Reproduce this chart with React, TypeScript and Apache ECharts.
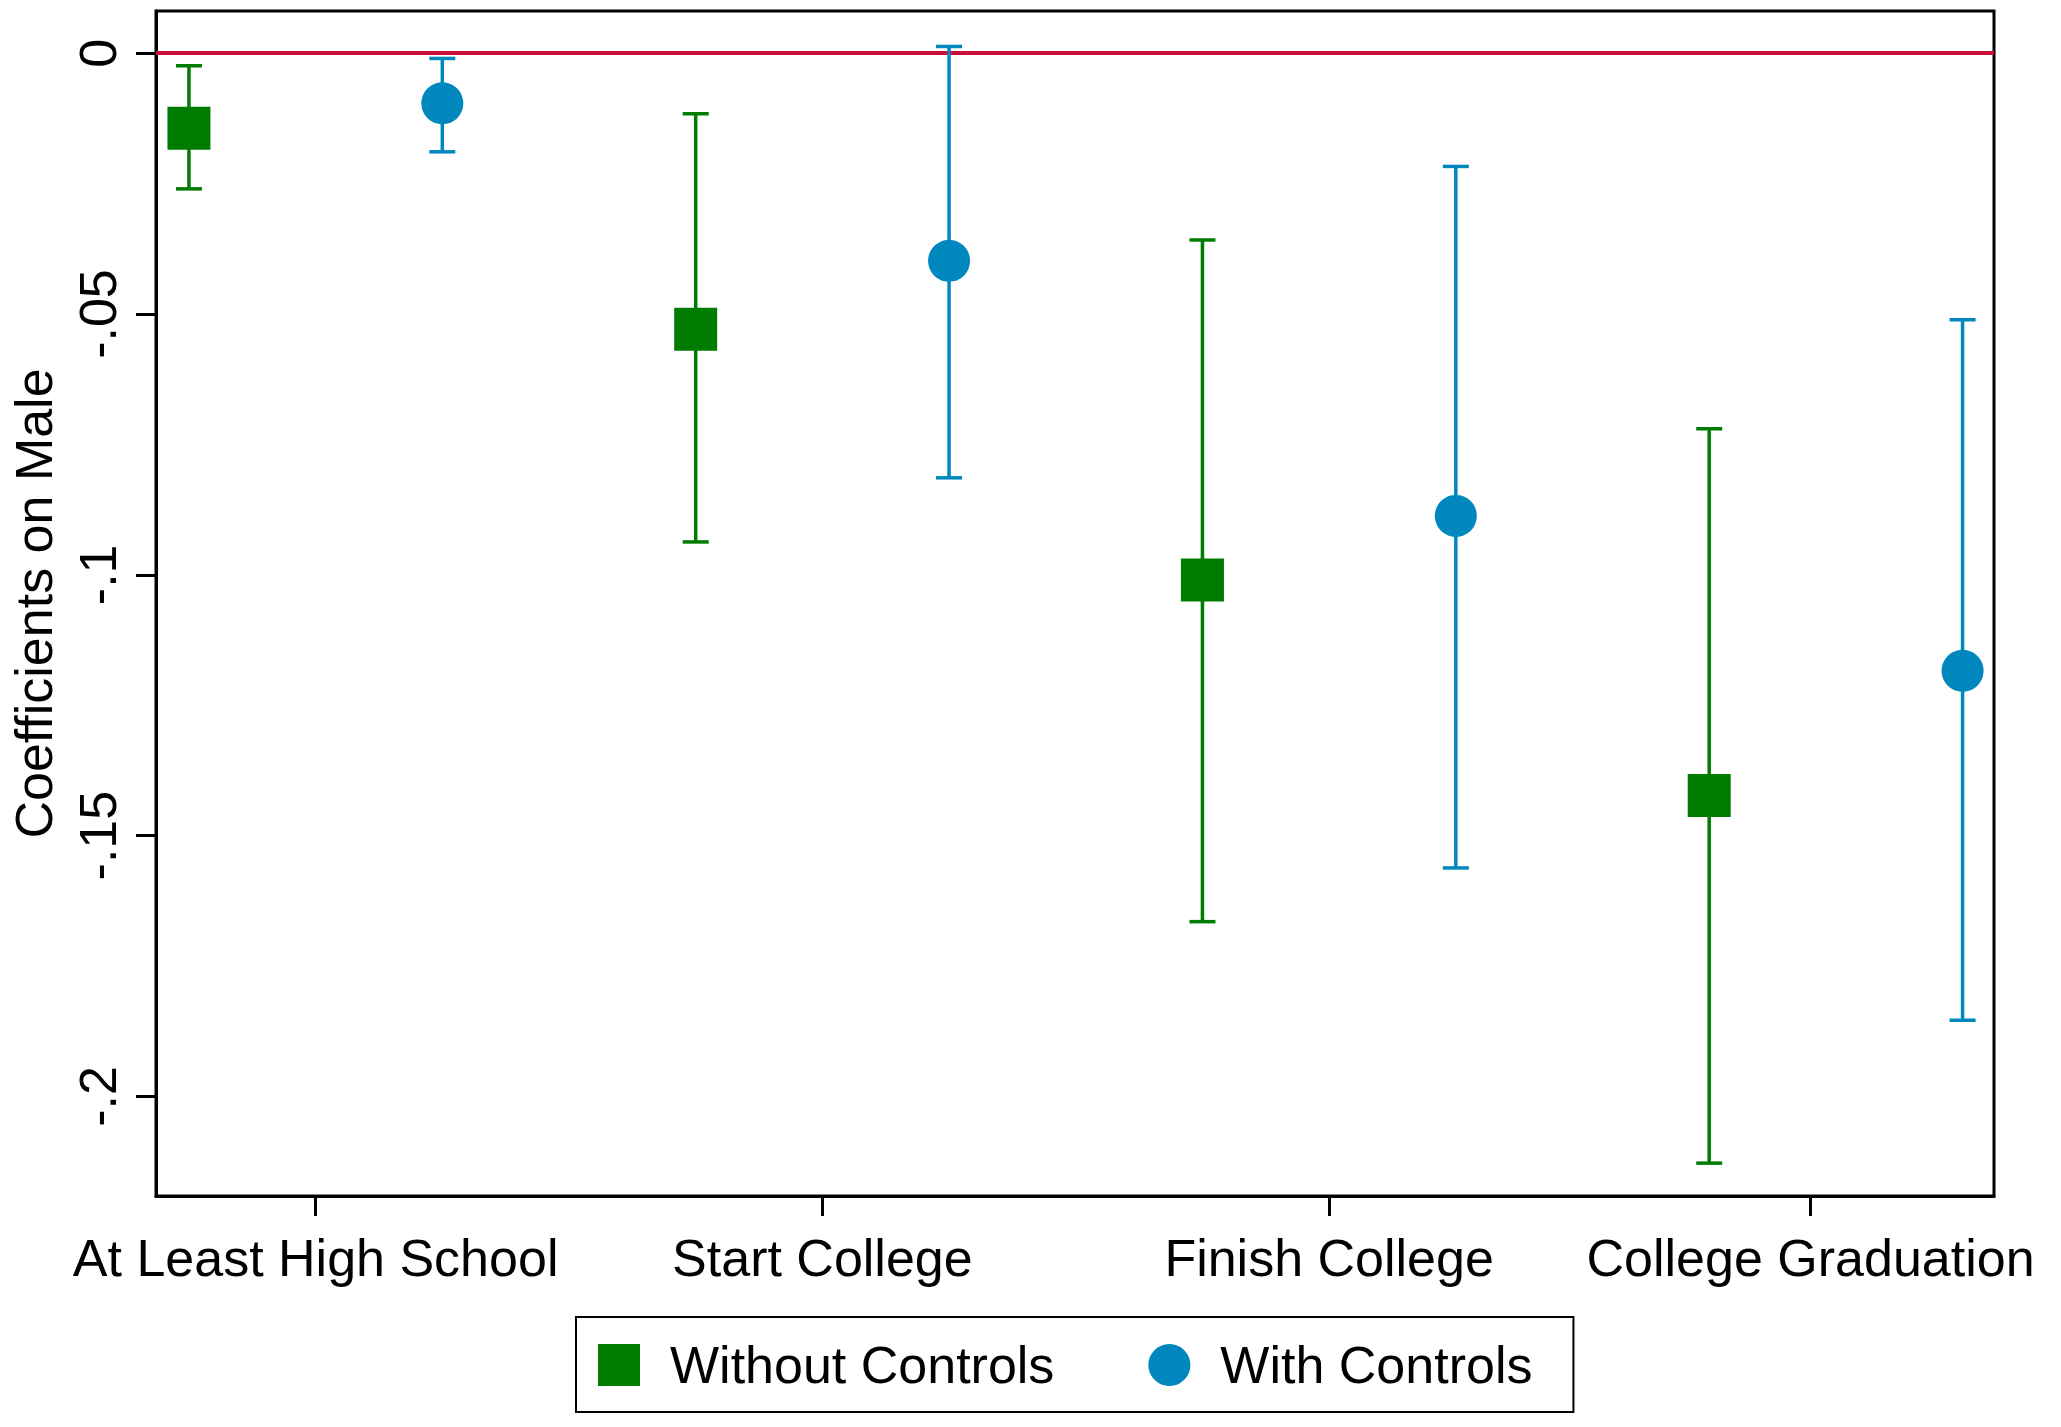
import React, { useEffect, useRef } from "react";
import * as echarts from "echarts";

const categories = ["At Least High School", "Start College", "Finish College", "College Graduation"];
const categoryTickPositions = [1.5, 3.5, 5.5, 7.4];
const yTickValues = [0, -0.05, -0.1, -0.15, -0.2];

const xWithout = [1, 3, 5, 7];
const withoutCoef = [-0.0144, -0.0529, -0.101, -0.1423];
const withoutLow = [-0.026, -0.0937, -0.1665, -0.2128];
const withoutHigh = [-0.0024, -0.0116, -0.0358, -0.072];

const xWith = [2, 4, 6, 8];
const withCoef = [-0.0096, -0.0398, -0.0887, -0.1184];
const withLow = [-0.0189, -0.0814, -0.1562, -0.1854];
const withHigh = [-0.001, 0.0013, -0.0217, -0.0511];

const GREEN = "#007d00";
const BLUE = "#0088be";
const RED = "#c8103a";
const FONT = "'Liberation Sans', Arial, sans-serif";

function errorBarRenderer(color: string) {
  return (params: any, api: any) => {
    const x = api.value(0);
    const lo = api.coord([x, api.value(1)]);
    const hi = api.coord([x, api.value(2)]);
    const hw = 13;
    const style = { stroke: color, lineWidth: 3.5 };
    return {
      type: "group",
      children: [
        { type: "line", shape: { x1: lo[0], y1: lo[1], x2: hi[0], y2: hi[1] }, style },
        { type: "line", shape: { x1: lo[0] - hw, y1: lo[1], x2: lo[0] + hw, y2: lo[1] }, style },
        { type: "line", shape: { x1: hi[0] - hw, y1: hi[1], x2: hi[0] + hw, y2: hi[1] }, style },
      ],
    };
  };
}

export default function App() {
  const ref = useRef<HTMLDivElement>(null);
  useEffect(() => {
    document.body.style.margin = "0";
    if (!ref.current) return;
    const chart = echarts.init(ref.current, null, { renderer: "svg" });
    const axisLineStyle = { color: "#000", width: 3 };
    chart.setOption({
      animation: false,
      backgroundColor: "#fff",
      textStyle: { fontFamily: FONT },
      grid: {
        left: 155,
        right: 67,
        top: 11,
        bottom: 231,
        show: true,
        borderColor: "#000",
        borderWidth: 3,
        backgroundColor: "#fff",
      },
      xAxis: {
        type: "value",
        min: 0.87,
        max: 8.124,
        splitLine: { show: false },
        axisLine: { show: true, onZero: false, lineStyle: axisLineStyle },
        axisTick: { show: true, length: 20, lineStyle: axisLineStyle, customValues: categoryTickPositions },
        axisLabel: {
          customValues: categoryTickPositions,
          margin: 36,
          fontSize: 52,
          color: "#000",
          fontFamily: FONT,
          formatter: (v: number) => {
            const i = categoryTickPositions.findIndex((p) => Math.abs(p - v) < 1e-6);
            return i >= 0 ? categories[i] : "";
          },
        },
      },
      yAxis: {
        type: "value",
        min: -0.2191,
        max: 0.0081,
        name: "Coefficients on Male",
        nameLocation: "middle",
        nameGap: 96,
        nameTextStyle: { fontSize: 52, color: "#000", fontFamily: FONT },
        splitLine: { show: false },
        axisLine: { show: true, onZero: false, lineStyle: axisLineStyle },
        axisTick: { show: true, length: 20, lineStyle: axisLineStyle, customValues: yTickValues },
        axisLabel: {
          customValues: yTickValues,
          rotate: 90,
          margin: 32,
          fontSize: 52,
          color: "#000",
          fontFamily: FONT,
          formatter: (v: number) => (v === 0 ? "0" : String(v).replace("0.", ".")),
        },
      },
      legend: {
        left: 576,
        top: 1317,
        orient: "horizontal",
        data: ["Without Controls", "With Controls"],
        itemWidth: 42,
        itemHeight: 42,
        itemGap: 94,
        padding: [22, 41, 21, 22],
        borderColor: "#000",
        borderWidth: 2,
        textStyle: { fontSize: 52, color: "#000", fontFamily: FONT, padding: [0, 0, 0, 25] },
      },
      series: [
        {
          type: "custom",
          name: "errWithout",
          renderItem: errorBarRenderer(GREEN),
          data: xWithout.map((x, i) => [x, withoutLow[i], withoutHigh[i]]),
          encode: { x: 0, y: [1, 2] },
          z: 2,
          silent: true,
        },
        {
          type: "custom",
          name: "errWith",
          renderItem: errorBarRenderer(BLUE),
          data: xWith.map((x, i) => [x, withLow[i], withHigh[i]]),
          encode: { x: 0, y: [1, 2] },
          z: 2,
          silent: true,
        },
        {
          type: "scatter",
          name: "Without Controls",
          symbol: "rect",
          symbolSize: 43,
          itemStyle: { color: GREEN, opacity: 1, borderRadius: 3 },
          data: xWithout.map((x, i) => [x, withoutCoef[i]]),
          z: 4,
          markLine: {
            silent: true,
            symbol: ["none", "none"],
            label: { show: false },
            lineStyle: { color: RED, width: 4, type: "solid" },
            data: [{ yAxis: 0 }],
            z: 1,
          },
        },
        {
          type: "scatter",
          name: "With Controls",
          symbol: "circle",
          symbolSize: 42,
          itemStyle: { color: BLUE, opacity: 1 },
          data: xWith.map((x, i) => [x, withCoef[i]]),
          z: 4,
        },
      ],
    });
    return () => chart.dispose();
  }, []);
  return <div ref={ref} style={{ width: 2061, height: 1427 }} />;
}
